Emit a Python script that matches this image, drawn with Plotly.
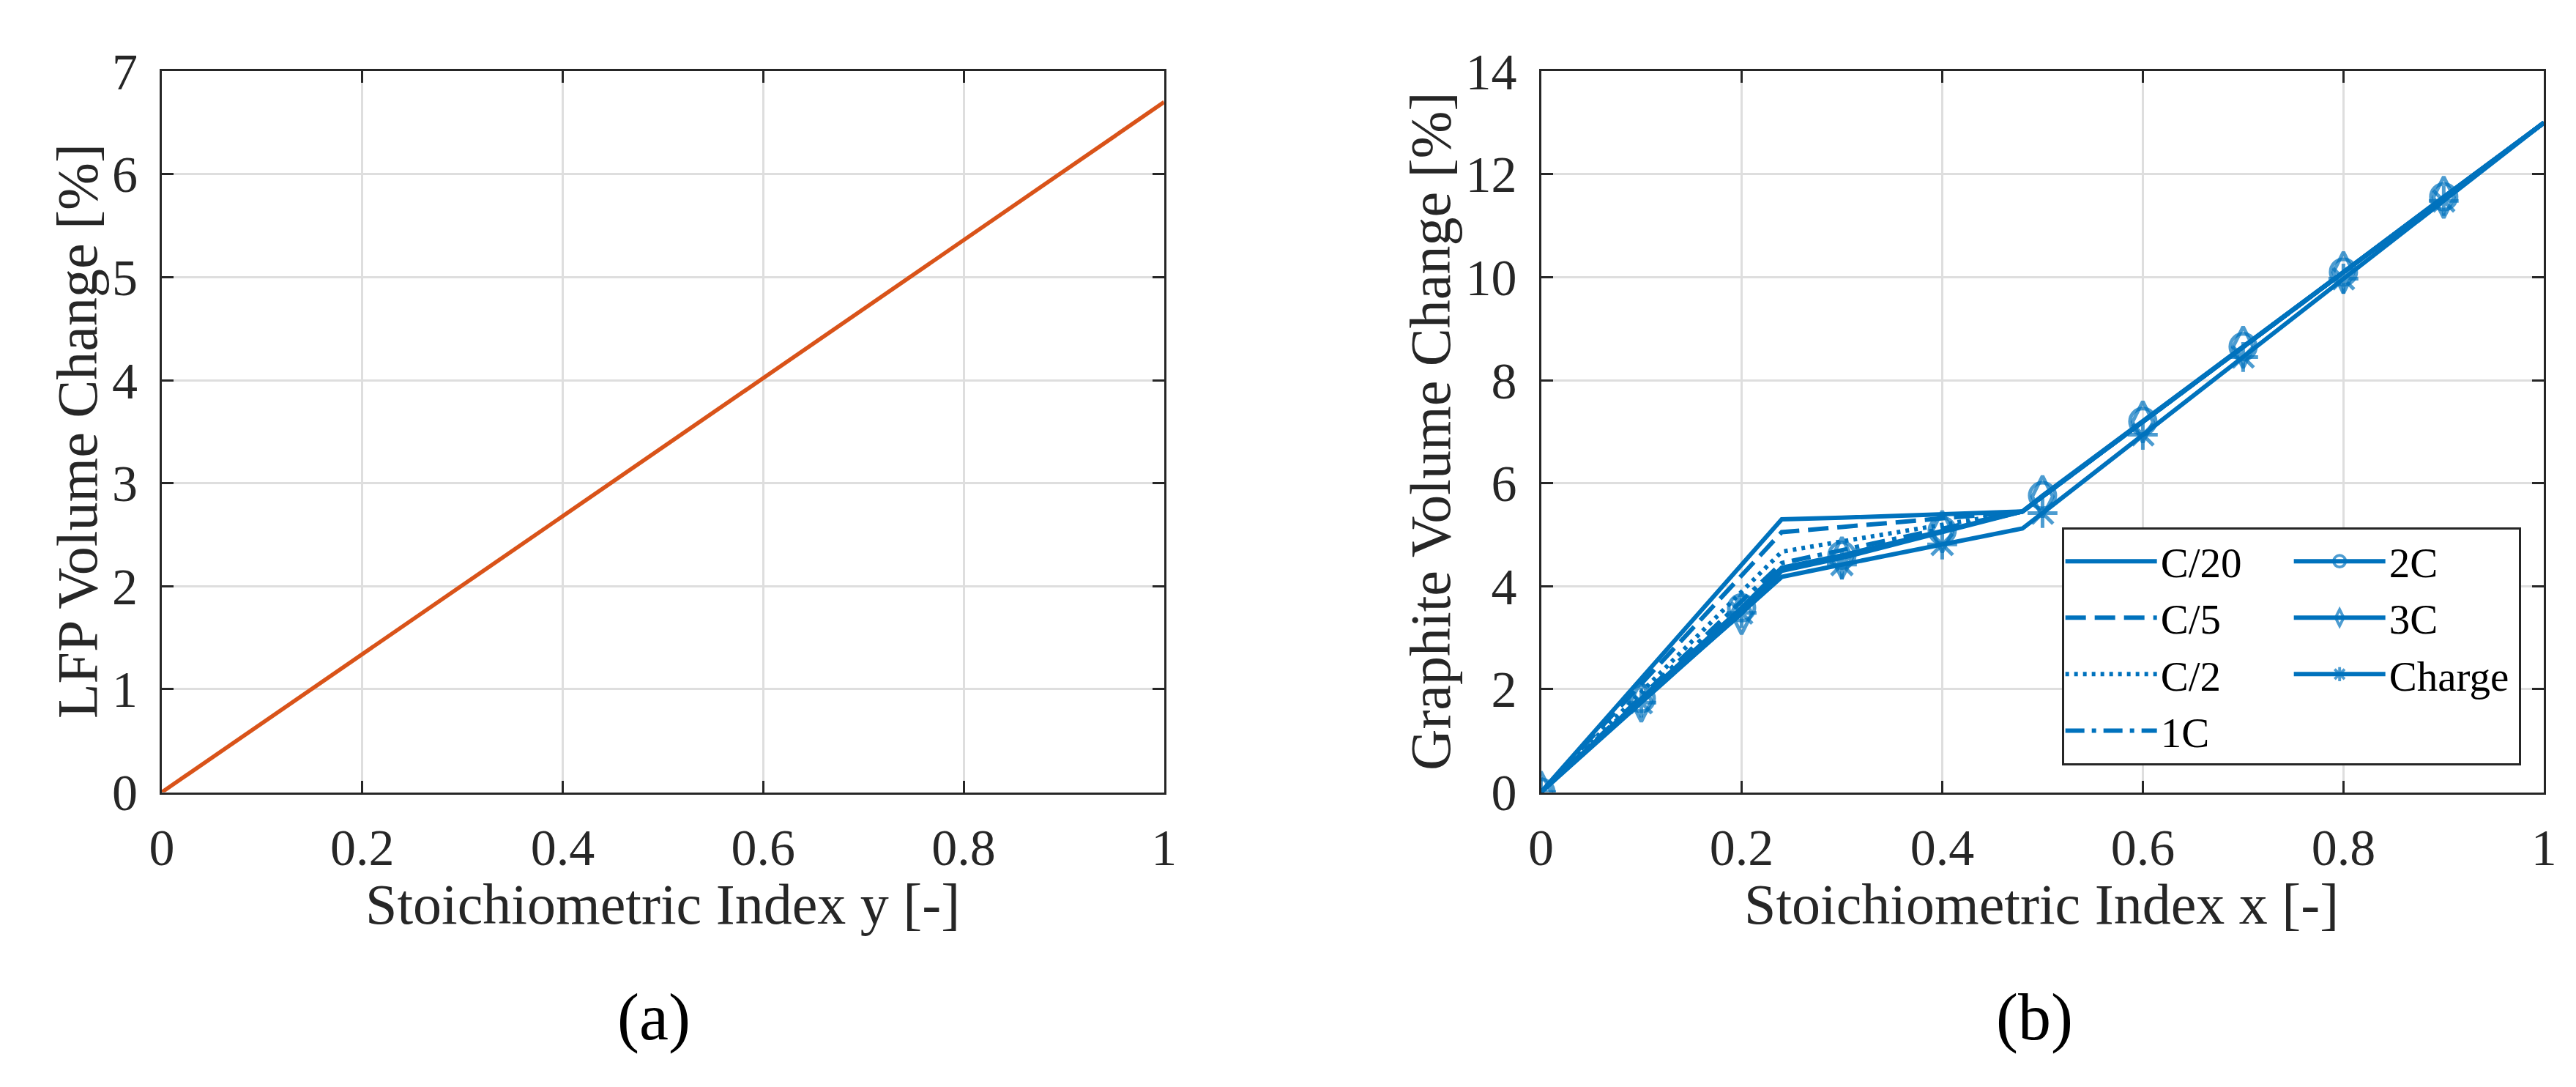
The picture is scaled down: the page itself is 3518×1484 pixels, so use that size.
import plotly.graph_objects as go

# ---- data ----
# (a) LFP volume change vs stoichiometric index y
y_index = [0.0, 1.0]
lfp_change = [0.0, 6.7]

# (b) graphite volume change vs stoichiometric index x
x_index = [0.0, 0.1, 0.2, 0.24, 0.3, 0.4, 0.48, 0.5, 0.6, 0.7, 0.8, 0.9, 1.0]
c20 = [0.0, 2.21, 4.42, 5.30, 5.33, 5.40, 5.45, 5.74, 7.19, 8.64, 10.09, 11.55, 13.0]
c5 = [0.0, 2.10, 4.21, 5.05, 5.15, 5.32, 5.45, 5.74, 7.19, 8.64, 10.09, 11.55, 13.0]
c2 = [0.0, 1.95, 3.89, 4.67, 4.87, 5.19, 5.45, 5.74, 7.19, 8.64, 10.09, 11.55, 13.0]
c1 = [0.0, 1.85, 3.71, 4.45, 4.70, 5.12, 5.45, 5.74, 7.19, 8.64, 10.09, 11.55, 13.0]
c2c = [0.0, 1.82, 3.58, 4.36, 4.60, 5.08, 5.45, 5.76, 7.20, 8.65, 10.10, 11.56, 13.0]
c3c = [0.0, 1.77, 3.47, 4.30, 4.55, 5.06, 5.45, 5.74, 7.19, 8.64, 10.09, 11.55, 13.0]
charge = [0.0, 1.74, 3.48, 4.18, 4.42, 4.81, 5.12, 5.42, 6.94, 8.45, 9.97, 11.48, 13.0]
# markers only drawn on the 0.1-spaced points (not on the 0.24 / 0.48 / 1.0 vertices)
marker_on = [1, 1, 1, 0, 1, 1, 0, 1, 1, 1, 1, 1, 0]

xticks = [0, 0.2, 0.4, 0.6, 0.8, 1]
yticks_a = [0, 1, 2, 3, 4, 5, 6, 7]
yticks_b = [0, 2, 4, 6, 8, 10, 12, 14]

BLUE = "#0072BD"
ORANGE = "#D95319"
INK = "#262626"
FONT = "Liberation Serif"
W, H = 3518, 1484

fig = go.Figure()

fig.add_trace(go.Scatter(x=y_index, y=lfp_change, mode="lines",
                         line=dict(color=ORANGE, width=5.5),
                         showlegend=False, xaxis="x", yaxis="y"))

series = [
    ("C/20", c20, "solid", None, 0, "g1"),
    ("C/5", c5, "28px,12px", None, 0, "g1"),
    ("C/2", c2, "5px,7px", None, 0, "g1"),
    ("1C", c1, "26px,10px,6px,10px", None, 0, "g1"),
    ("2C", c2c, "solid", "circle-open", 35, "g2"),
    ("3C", c3c, "solid", "diamond-tall-open", 40, "g2"),
    ("Charge", charge, "solid", "asterisk-open", 34, "g2"),
]
for name, vals, dash, sym, msize, grp in series:
    if sym is None:
        fig.add_trace(go.Scatter(x=x_index, y=vals, mode="lines", name=name,
                                 line=dict(color=BLUE, width=6, dash=dash),
                                 legendgroup=grp, xaxis="x2", yaxis="y2"))
    else:
        fig.add_trace(go.Scatter(
            x=x_index, y=vals, mode="lines+markers", name=name,
            line=dict(color=BLUE, width=6, dash=dash),
            marker=dict(symbol=sym, color=BLUE,
                        size=[msize * m for m in marker_on],
                        line=dict(color=BLUE, width=[5 * m for m in marker_on])),
            legendgroup=grp, xaxis="x2", yaxis="y2"))

ydom = [1 - 1093 / H, 1 - 54 / H]
ax_common = dict(showline=True, linecolor=INK, linewidth=3, mirror="ticks",
                 ticks="inside", ticklen=16, tickwidth=3, tickcolor=INK,
                 showgrid=True, gridcolor="#dedede", gridwidth=2.5, zeroline=False,
                 tickfont=dict(family=FONT, size=70, color=INK))

fig.update_layout(
    width=W, height=H,
    margin=dict(l=0, r=0, t=0, b=0),
    paper_bgcolor="white", plot_bgcolor="white",
    font=dict(family=FONT, color=INK),
    xaxis=dict(domain=[197 / W, 1580 / W], range=[0, 1], tickvals=xticks,
               ticktext=[f"{v:g}" for v in xticks], anchor="y",
               ticklabelstandoff=12, **ax_common),
    yaxis=dict(domain=ydom, range=[0, 7], tickvals=yticks_a, anchor="x",
               ticklabelstandoff=16, **ax_common),
    xaxis2=dict(domain=[2100 / W, 3484 / W], range=[0, 1], tickvals=xticks,
                ticktext=[f"{v:g}" for v in xticks], anchor="y2",
                ticklabelstandoff=12, **ax_common),
    yaxis2=dict(domain=ydom, range=[0, 14], tickvals=yticks_b, anchor="x2",
                ticklabelstandoff=16, **ax_common),
    legend=dict(orientation="h", x=3452 / W, xanchor="right",
                y=1 - 1054 / H, yanchor="bottom",
                bgcolor="white", bordercolor=INK, borderwidth=3,
                font=dict(family=FONT, size=57, color="black"),
                itemwidth=125, entrywidth=172, entrywidthmode="pixels"),
)

ann = dict(showarrow=False, xref="paper", yref="paper",
           xanchor="center", yanchor="middle",
           font=dict(family=FONT, size=78, color=INK))
fig.add_annotation(text="LFP Volume Change [%]", x=81 / W, y=1 - 573 / H,
                   textangle=-90, **ann)
fig.add_annotation(text="Graphite Volume Change [%]", x=1948 / W, y=1 - 573 / H,
                   textangle=-90, **ann)
fig.add_annotation(text="Stoichiometric Index y [-]", x=888 / W, y=1 - 1254 / H, **ann)
fig.add_annotation(text="Stoichiometric Index x [-]", x=2791 / W, y=1 - 1254 / H, **ann)
lab = dict(showarrow=False, xref="paper", yref="paper", xanchor="center",
           yanchor="middle", font=dict(family=FONT, size=90, color="black"))
fig.add_annotation(text="(a)", x=876 / W, y=1 - 1417 / H, **lab)
fig.add_annotation(text="(b)", x=2781 / W, y=1 - 1417 / H, **lab)

fig.write_html("out.html")
